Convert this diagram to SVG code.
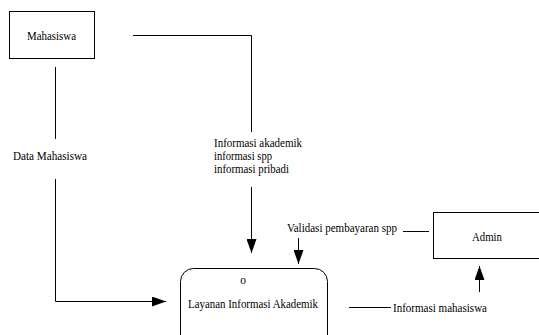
<svg xmlns="http://www.w3.org/2000/svg" width="539" height="335" viewBox="0 0 539 335">
<defs>
<style>
text{font-family:"Liberation Serif","Times New Roman",serif;font-size:11.5px;fill:#000}
.ln{fill:none;stroke:#000;stroke-width:1}
.box{fill:#fff;stroke:#000;stroke-width:1}
</style>
<marker id="ahl" viewBox="0 0 14 10" refX="14" refY="5" markerWidth="14" markerHeight="10" markerUnits="userSpaceOnUse" orient="auto">
<path d="M0,0 L14,5 L0,10 Z" fill="#000"/>
</marker>
</defs>
<rect width="539" height="335" fill="#fff"/>
<g id="mahasiswa">
<rect class="box" x="9.5" y="11.5" width="85" height="47"/>
<text x="27" y="40" textLength="49" lengthAdjust="spacingAndGlyphs">Mahasiswa</text>
</g>
<g id="admin">
<rect class="box" x="433.5" y="212.5" width="110" height="46"/>
<text x="472" y="241" textLength="30" lengthAdjust="spacingAndGlyphs">Admin</text>
</g>
<g id="layanan">
<rect class="box" x="180.5" y="268.5" width="147" height="80" rx="13" ry="13"/>
<text x="243" y="284" text-anchor="middle">o</text>
<text x="188" y="308" textLength="130" lengthAdjust="spacingAndGlyphs">Layanan Informasi Akademik</text>
</g>
<g id="connectors">
<path class="ln" d="M133,35.5 H251.5 V132"/>
<path class="ln" d="M251.5,187 V253" marker-end="url(#ahl)"/>
<path class="ln" d="M55.5,67 V139"/>
<path class="ln" d="M55.5,179 V301.5 H166" marker-end="url(#ahl)"/>
<path class="ln" d="M403,231.5 H429"/>
<path class="ln" d="M298.5,238 V264" marker-end="url(#ahl)"/>
<path class="ln" d="M349,307.5 H391"/>
<path class="ln" d="M479.5,292 V266" marker-end="url(#ahl)"/>
</g>
<g id="labels">
<text x="13" y="160" textLength="74" lengthAdjust="spacingAndGlyphs">Data Mahasiswa</text>
<text x="214" y="147" textLength="88" lengthAdjust="spacingAndGlyphs">Informasi akademik</text>
<text x="214" y="160" textLength="58" lengthAdjust="spacingAndGlyphs">informasi spp</text>
<text x="214" y="173" textLength="75" lengthAdjust="spacingAndGlyphs">informasi pribadi</text>
<text x="287" y="232" textLength="110" lengthAdjust="spacingAndGlyphs">Validasi pembayaran spp</text>
<text x="393" y="312" textLength="94" lengthAdjust="spacingAndGlyphs">Informasi mahasiswa</text>
</g>
</svg>
